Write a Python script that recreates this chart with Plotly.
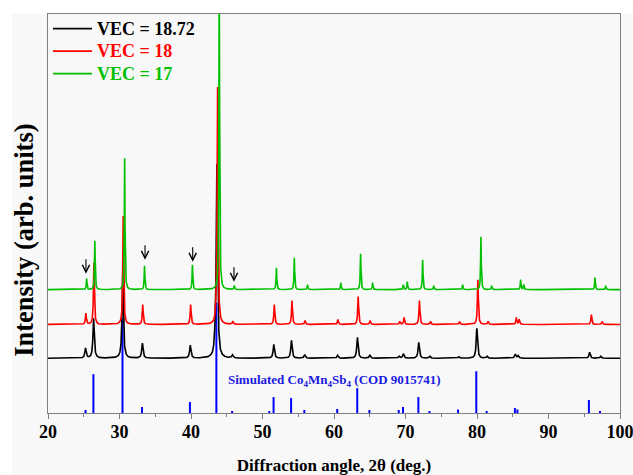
import numpy as np
import plotly.graph_objects as go

# ---------------- data ----------------
# Simulated Co4Mn4Sb4 stick pattern (2theta, relative intensity)
sim_pos = [25.25, 26.35, 30.42, 33.15, 39.85, 43.55, 45.75, 50.95, 51.55, 54.0, 55.85,
           60.45, 63.25, 64.95, 69.05, 69.65, 71.8, 73.35, 77.35, 79.9, 81.35, 85.3,
           85.65, 95.65, 97.2]
sim_int = [3, 39, 95, 6, 11, 111, 2, 2, 16, 15, 3,
           4, 25, 3, 3, 6, 16, 2, 3.5, 42, 2, 5,
           3.5, 13, 2]

# VEC = 18.72 (black)
blk_pos = [25.25, 26.38, 30.45, 33.2, 39.9, 43.35, 43.62, 45.8, 51.58, 54.05, 55.9, 60.5,
           63.28, 65.0, 69.1, 69.7, 71.85, 73.4, 77.45, 79.98, 81.4, 85.35, 85.75, 95.75, 97.3]
blk_int = [10, 40, 85, 15, 13, 8, 194, 3, 14, 18, 3.5, 3,
           21, 3, 2, 4.5, 16, 2, 1.5, 30, 2, 4, 2.5, 6, 2]

# VEC = 18 (red)
red_pos = [25.3, 26.42, 30.52, 33.25, 39.95, 43.5, 43.72, 45.85, 51.65, 54.12, 55.95, 60.55,
           63.38, 65.05, 69.2, 69.8, 71.95, 73.5, 77.55, 80.12, 81.55, 85.5, 85.9, 96.0, 97.5]
red_int = [11, 62, 109, 20, 20, 6, 238, 3, 20, 24, 4, 5,
           28, 4, 3, 7, 24, 3, 3, 45, 3, 7, 5, 10, 3]

# VEC = 17 (green)
grn_pos = [25.4, 26.55, 30.72, 33.5, 40.2, 43.95, 46.05, 51.95, 54.45, 56.3, 60.95,
           63.72, 65.4, 69.7, 70.25, 72.4, 73.95, 78.0, 80.55, 82.05, 86.1, 86.55, 96.5, 98.0]
grn_int = [11, 49, 132, 24, 25, 330, 4, 22, 32, 5, 7,
           36, 7, 5, 8, 30, 4, 5, 53, 4, 10, 5, 12, 4]

series_names = ["VEC = 18.72", "VEC = 18", "VEC = 17"]
series_offsets = [55, 89, 124]

arrow_x = [25.31, 33.57, 40.24, 46.01]
arrow_y = [140, 154, 152, 132]

x_ticks = [20, 30, 40, 50, 60, 70, 80, 90, 100]

# ---------------- rendering ----------------
FONT = "Liberation Serif"
tt = np.arange(20.0, 100.0001, 0.01)


def profile(pos, inten, hw, offset):
    y = np.full_like(tt, float(offset))
    for p, h in zip(pos, inten):
        y += h * hw ** 2 / ((tt - p) ** 2 + hw ** 2)
    return y


fig = go.Figure()

# stick pattern
sx, sy = [], []
for p, h in zip(sim_pos, sim_int):
    sx += [p, p, None]
    sy += [0, h, None]
fig.add_trace(go.Scatter(x=sx, y=sy, mode="lines", line=dict(color="#0000ff", width=2),
                         showlegend=False, hoverinfo="skip"))

colors = ["#000000", "#ff0000", "#00c000"]
widths = [0.11, 0.075, 0.055]
data = [(blk_pos, blk_int), (red_pos, red_int), (grn_pos, grn_int)]
for (pos, inten), name, off, col, hw in zip(data, series_names, series_offsets, colors, widths):
    fig.add_trace(go.Scatter(
        x=tt, y=profile(pos, inten, hw, off), mode="lines",
        line=dict(color=col, width=1.6),
        name=f'<span style="color:{col};font-size:18px">{name}</span>'))

# arrows
for ax_, ay_ in zip(arrow_x, arrow_y):
    fig.add_annotation(x=ax_, y=ay_, text="", showarrow=True, ax=0, ay=-16,
                       arrowhead=5, arrowsize=1.3, arrowwidth=1.1, arrowcolor="#000000")

fig.add_annotation(x=60.1, y=33, text="Simulated Co<sub>4</sub>Mn<sub>4</sub>Sb<sub>4</sub> (COD 9015741)",
                   showarrow=False, font=dict(family=FONT, size=13, color="#1a1ae0", weight="bold"))

# y-axis title (placed as in the reference, slightly below the axis centre)
fig.add_annotation(xref="paper", yref="paper", x=-24 / 572, y=173 / 401, textangle=-90,
                   text="Intensity (arb. units)", showarrow=False, xanchor="center", yanchor="middle",
                   font=dict(family=FONT, size=26.5, weight="bold", color="#000000"))

# light gray backdrop like the reference
fig.add_shape(type="rect", xref="paper", yref="paper", x0=-36 / 572, x1=585 / 572,
              y0=-62 / 401, y1=1.0, fillcolor="#f8f8f8", line_width=0, layer="below")

fig.update_layout(
    width=633, height=475,
    margin=dict(l=48, r=13, t=12, b=62),
    paper_bgcolor="#ffffff", plot_bgcolor="rgba(0,0,0,0)",
    font=dict(family=FONT, color="#000000"),
    showlegend=True,
    legend=dict(x=0.0, y=1.004, xanchor="left", yanchor="top", bgcolor="rgba(0,0,0,0)",
                font=dict(family=FONT, size=15, weight="bold"), tracegroupgap=0,
                itemwidth=39),
    xaxis=dict(range=[20, 100], tickvals=x_ticks, ticks="outside", ticklen=5, tickwidth=1,
               tickcolor="#808080", showline=True, linecolor="#808080", linewidth=1.2,
               mirror=True, showgrid=False, zeroline=False, automargin=False,
               ticklabelstandoff=-3, ticklabeloverflow="allow",
               minor=dict(dtick=5, ticks="outside", ticklen=3, tickcolor="#808080", showgrid=False),
               tickfont=dict(family=FONT, size=18, weight="bold"),
               title=dict(text="Diffraction angle, 2θ (deg.)", standoff=18,
                          font=dict(family=FONT, size=17, weight="bold"))),
    yaxis=dict(range=[0, 401], showticklabels=False, ticks="", showline=True,
               linecolor="#808080", linewidth=1.2, mirror=True, showgrid=False, zeroline=False,
               automargin=False),
)

fig.write_html("out.html", config={"displayModeBar": False},
               post_script="document.body.style.margin='0';document.body.style.padding='0';")
